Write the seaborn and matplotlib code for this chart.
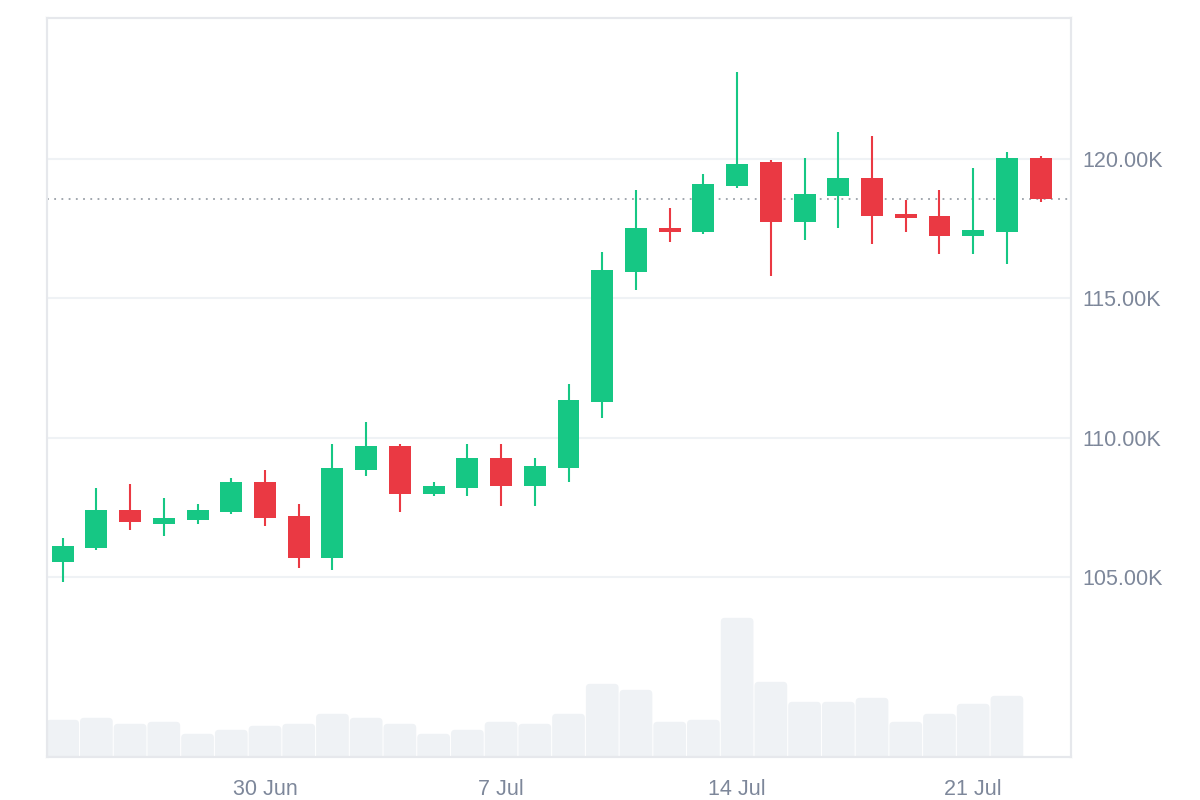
import pandas as pd
import numpy as np
import matplotlib
matplotlib.use("Agg")
import matplotlib.pyplot as plt
from matplotlib.patches import FancyBboxPatch
import seaborn as sns

# daily candles, values in thousands of USD
dates = pd.date_range("2025-06-24", periods=30, freq="D")
opens = [105.55, 106.05, 107.40, 106.90, 107.04, 107.33, 108.41, 107.19, 105.69, 108.85,
         109.70, 107.99, 108.20, 109.27, 108.27, 108.92, 111.29, 115.95, 117.52, 117.38,
         119.03, 119.89, 117.75, 118.68, 119.32, 118.03, 117.96, 117.25, 117.39, 120.04]
highs = [106.40, 108.19, 108.33, 107.83, 107.62, 108.55, 108.84, 107.62, 109.77, 110.56,
         109.77, 108.41, 109.77, 109.77, 109.27, 111.92, 116.66, 118.89, 118.24, 119.46,
         123.12, 119.96, 120.04, 120.97, 120.83, 118.53, 118.89, 119.68, 120.25, 120.11]
lows = [104.83, 105.97, 106.68, 106.48, 106.90, 107.26, 106.84, 105.33, 105.26, 108.63,
        107.34, 107.91, 107.91, 107.56, 107.56, 108.42, 110.71, 115.31, 117.02, 117.31,
        118.96, 115.80, 117.10, 117.53, 116.96, 117.39, 116.60, 116.60, 116.24, 118.47]
closes = [106.11, 107.40, 106.98, 107.11, 107.40, 108.41, 107.12, 105.69, 108.91, 109.70,
          107.99, 108.26, 109.27, 108.27, 108.98, 111.35, 116.02, 117.52, 117.38, 119.10,
          119.82, 117.74, 118.74, 119.32, 117.96, 117.88, 117.25, 117.46, 120.04, 118.57]
# volume (relative units), last day has none yet
volumes = [37, 39, 33, 35, 23, 27, 31, 33, 43, 39, 33, 23, 27, 35, 33,
           43, 73, 67, 35, 37, 139, 75, 55, 55, 59, 35, 43, 53, 61]

price_ticks = [105, 110, 115, 120]
date_ticks = ["2025-06-30", "2025-07-07", "2025-07-14", "2025-07-21"]

GREEN = "#16c784"
RED = "#ea3943"
GREY_TXT = "#7d879a"
GRID = "#eff2f5"
VOL = "#eff2f5"

sns.set_theme(style="white")
plt.rcParams["font.family"] = ["Liberation Sans", "DejaVu Sans"]

fig = plt.figure(figsize=(12, 8), dpi=100)
ax_vol = fig.add_axes([0.039, 0.054, 0.8535, 0.9235])
ax = ax_vol.twinx()

idx = np.arange(len(dates))

# volume bars at the bottom
vol_df = pd.DataFrame({"i": idx[:len(volumes)], "vol": volumes})
sns.barplot(data=vol_df, x="i", y="vol", native_scale=True, color=VOL,
            saturation=1, width=0.97, errorbar=None, ax=ax_vol)
vol_top = max(volumes) * 739 / 139
ax_vol.set_ylim(0, vol_top)
ax_vol.set_xlim(-0.47, 29.9)

# rounded tops: swap the plain rectangles for rounded boxes, bottoms pushed below 0
px_x = 0.8535 * 1200 / 30.37
px_y = 0.9235 * 800 / vol_top
for p in list(ax_vol.patches):
    x0, w, h = p.get_x(), p.get_width(), p.get_height()
    p.remove()
    r = 4 / px_x
    box = FancyBboxPatch((x0, -10), w, h + 10,
                         boxstyle=f"round,pad=0,rounding_size={r}",
                         mutation_aspect=(4 / px_y) / r,
                         facecolor=VOL, edgecolor="none", zorder=1)
    ax_vol.add_patch(box)
ax_vol.set_yticks([])
ax_vol.set_ylabel("")
ax_vol.set_xlabel("")

# candles
df = pd.DataFrame({"o": opens, "h": highs, "l": lows, "c": closes}, index=idx)
up = df["c"] >= df["o"]
colors = np.where(up, GREEN, RED)
ax.vlines(idx, df["l"], df["h"], colors=colors, linewidth=1.5, zorder=3)
body_low = df[["o", "c"]].min(axis=1)
body_h = (df["c"] - df["o"]).abs().clip(lower=0.12)
ax.bar(idx, body_h, bottom=body_low, width=0.65, color=colors, zorder=4, linewidth=0)

# last price line
ax.axhline(closes[-1], color="#9aa0a8", linestyle=(0, (1, 3)), linewidth=1.3, zorder=2)

ax.set_ylim(98.54, 125.06)
ax.set_yticks(price_ticks)
ax.set_yticklabels([f"{v:.2f}K" for v in price_ticks])
ax.yaxis.grid(True, color=GRID, linewidth=1.5, zorder=0)
ax.set_axisbelow(True)

ax.set_xlim(-0.47, 29.9)
tick_pos = [int((pd.Timestamp(d) - dates[0]).days) for d in date_ticks]
ax_vol.set_xticks(tick_pos)
ax_vol.set_xticklabels([f"{pd.Timestamp(d).day} {pd.Timestamp(d):%b}" for d in date_ticks])

for a in (ax, ax_vol):
    a.tick_params(axis="both", length=0, labelsize=15.5, labelcolor=GREY_TXT)
    for s in a.spines.values():
        s.set_color("#e6e8ec")
        s.set_linewidth(1.5)
ax.tick_params(axis="y", pad=8)
ax_vol.tick_params(axis="x", pad=16)
ax.patch.set_visible(False)

fig.savefig("out.png", dpi=100, facecolor="white")
